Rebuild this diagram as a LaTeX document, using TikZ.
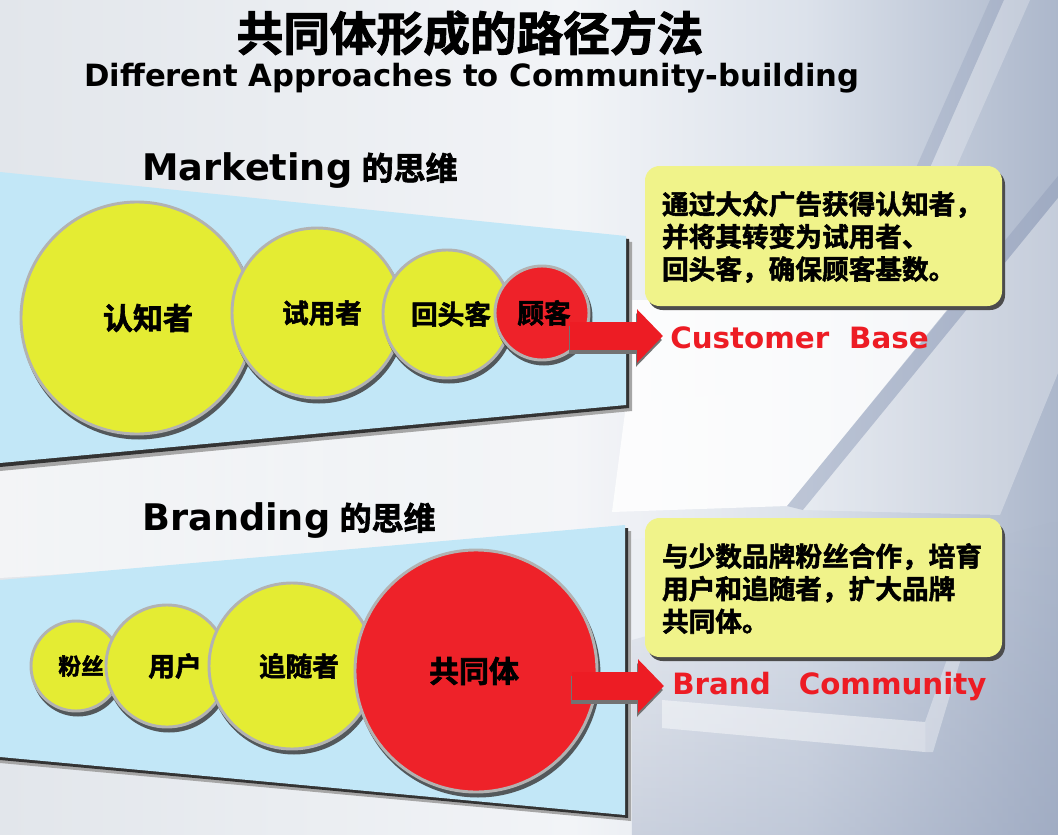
\documentclass[tikz,border=0pt]{standalone}
\usepackage{fontspec}
\setmainfont{DejaVu Sans}
\newfontfamily\cjk{Noto Sans CJK SC Bold}[FakeBold=2]
\newfontfamily\dvs{DejaVu Sans}
\usetikzlibrary{calc,arrows.meta,fadings}
\definecolor{panelblue}{RGB}{194,231,247}
\definecolor{bubY}{RGB}{228,236,51}
\definecolor{bubR}{RGB}{238,34,41}
\definecolor{bubB}{RGB}{178,178,178}
\definecolor{boxY}{RGB}{240,243,138}
\definecolor{lblR}{RGB}{237,28,36}
\definecolor{bgA}{RGB}{226,230,235}
\definecolor{bgB}{RGB}{242,244,247}
\definecolor{bgB2}{RGB}{220,226,235}
\definecolor{bgC}{RGB}{172,183,203}
\definecolor{slabD}{RGB}{140,153,182}
\pgfdeclarehorizontalshading{bgsh}{100bp}{color(0bp)=(bgA); color(25bp)=(bgA); color(52bp)=(bgB); color(63bp)=(bgB2); color(75bp)=(bgC); color(100bp)=(bgC)}
\tikzset{
 bub/.style={circle, draw=bubB, line width=2.2pt, inner sep=0pt},
 bubshadow/.style={fill=black!75, opacity=.85},
 bubtext/.style={inner sep=0pt, text=black},
 infobox/.style={rounded corners=11pt, fill=boxY, minimum width=267.75pt, inner sep=0pt},
 boxshadow/.style={rounded corners=11pt, fill=black!70, minimum width=267.75pt, inner sep=0pt},
 infotext/.style={font={\cjk\fontsize{20pt}{24.4pt}\selectfont}, align=left, inner sep=0pt, anchor=west},
 redlbl/.style={font={\dvs\bfseries\fontsize{22pt}{26pt}\selectfont}, text=lblR, inner sep=0pt, anchor=base west},
 heading/.style={inner sep=0pt, anchor=base west},
 blockarrow/.style={line width=21pt, draw=lblR, -{Triangle[length=19.5pt,width=39pt]}},
 arrowshadow/.style={line width=21pt, draw=black!55, -{Triangle[length=19.5pt,width=39pt]}},
}
% name, x, y, diameter, fill, font size, text, text x-offset
\newcommand\bubble[8]{%
  \fill[bubshadow] (#2+2,#3+4) circle [radius=#4/2+1.5];
  \node[bub, fill=#5, minimum size=#4*0.75pt] (#1) at (#2,#3) {};
  \node[bubtext, font={\cjk\fontsize{#6}{#6}\selectfont}] (#1-t) at ($(#1.center)+(#8,0)$) {#7};
}
\begin{document}
\begin{tikzpicture}[x=0.75pt,y=-0.75pt]
\useasboundingbox (0,0) rectangle (1058,835);
% ---------- background ----------
\shade[shading=bgsh] (0,0) rectangle (1058,835);
\fill[slabD, opacity=.30] (990,0) -- (1004,0) -- (929,170) -- (915,170) -- cycle;
\fill[white, opacity=.25] (1004,0) -- (1030,0) -- (955,170) -- (929,170) -- cycle;
\fill[white, opacity=.6, path fading=east] (0,455) -- (780,390) -- (780,530) -- (0,578) -- cycle;
\fill[white, opacity=.85] (626,300) -- (955,300) -- (787,506) -- (612,512) -- (626,405) -- cycle;
\fill[slabD, opacity=.40] (1058,176) -- (787,506) -- (803,510) -- (1058,198) -- cycle;
\fill[white, opacity=.30] (1058,198) -- (803,510) -- (1000,515) -- (1058,373) -- cycle;
\fill[slabD, opacity=.35, path fading=north] (632,640) -- (1058,520) -- (1058,835) -- (632,835) -- cycle;
\fill[white, opacity=.45] (662,700) -- (925,722) -- (925,752) -- (662,728) -- cycle;
\fill[white, opacity=.35] (925,722) -- (952,645) -- (962,655) -- (933,752) -- (925,752) -- cycle;
% ---------- title ----------
\node[font={\cjk\fontsize{35pt}{35pt}\selectfont}] (title) at (470,33) {共同体形成的路径方法};
\node[anchor=base, inner sep=0pt, font={\dvs\bfseries\fontsize{23pt}{23pt}\selectfont}] (sub) at (472,86) {Different Approaches to Community-building};
% ---------- Marketing panel ----------
\node[heading] (mk) at (142,180) {{\dvs\bfseries\fontsize{27.5pt}{30pt}\selectfont Marketing}\hspace{7pt}{\cjk\fontsize{24pt}{26pt}\selectfont 的思维}};
\fill[black!35] (0,178) -- (632,242) -- (632,411) -- (0,471) -- cycle;
\fill[black!80] (0,175) -- (629,239) -- (629,408) -- (0,467) -- cycle;
\fill[panelblue] (0,172) -- (626,236) -- (626,405) -- (0,463) -- cycle;
\bubble{renzhi}{137}{318}{232}{bubY}{22.5pt}{认知者}{11}
\bubble{shiyong}{317}{313}{170}{bubY}{20pt}{试用者}{5}
\bubble{huitou}{447}{314}{128}{bubY}{20pt}{回头客}{4}
\bubble{guke}{542}{313}{94}{bubR}{20pt}{顾客}{2}
\node[boxshadow, minimum height=105pt] (box1s) at (826.5,240) {};
\node[infobox, minimum height=105pt] (box1) at (823.5,236) {};
\node[infotext] (t1) at ($(box1.west)+(17,1)$) {通过大众广告获得认知者，\\并将其转变为试用者、\\回头客，确保顾客基数。};
\node[redlbl] (cb) at (670,348) {Customer\hspace{15pt}Base};
\coordinate (a1s) at ($(guke.center)+(28,23)$);
\coordinate (a1t) at (a1s -| cb.west);
\draw[arrowshadow] ($(a1s)+(-1,4)$) -- ($(a1t)+(-8,4)$);
\draw[blockarrow] (a1s) -- ($(a1t)+(-7,0)$);
% ---------- Branding panel ----------
\node[heading] (br) at (142,530) {{\dvs\bfseries\fontsize{27.5pt}{30pt}\selectfont Branding}\hspace{7pt}{\cjk\fontsize{24pt}{26pt}\selectfont 的思维}};
\fill[black!35] (0,586) -- (631,531) -- (631,821) -- (0,763) -- cycle;
\fill[black!80] (0,583) -- (628,528) -- (628,818) -- (0,760) -- cycle;
\fill[panelblue] (0,580) -- (625,525) -- (625,815) -- (0,757) -- cycle;
\bubble{fensi}{76}{666}{90}{bubY}{17pt}{粉丝}{5}
\bubble{yonghu}{167}{666}{122}{bubY}{20pt}{用户}{8}
\bubble{zhuisui}{292}{666}{166}{bubY}{20pt}{追随者}{7}
\bubble{gtt}{476}{671}{242}{bubR}{22.5pt}{共同体}{-2}
\node[boxshadow, minimum height=104.25pt] (box2s) at (826.5,591.5) {};
\node[infobox, minimum height=104.25pt] (box2) at (823.5,587.5) {};
\node[infotext] (t2) at ($(box2.west)+(17,1)$) {与少数品牌粉丝合作，培育\\用户和追随者，扩大品牌\\共同体。};
\node[redlbl] (bc) at (672,694) {Brand\hspace{21pt}Community};
\coordinate (a2s) at ($(gtt.center)+(96,15)$);
\coordinate (a2t) at (a2s -| bc.west);
\draw[arrowshadow] ($(a2s)+(-1,4)$) -- ($(a2t)+(-9,4)$);
\draw[blockarrow] (a2s) -- ($(a2t)+(-8,0)$);
\end{tikzpicture}
\end{document}
